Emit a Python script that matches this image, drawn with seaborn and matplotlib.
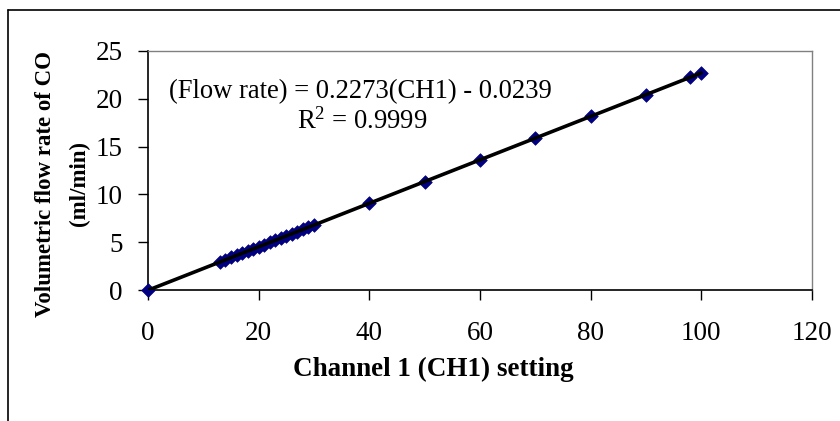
import matplotlib
matplotlib.use("Agg")
import matplotlib.pyplot as plt
from matplotlib.lines import Line2D
import numpy as np
import pandas as pd
import seaborn as sns

# Calibration readings: channel setting vs. measured CO flow (ml/min)
ch1_setting = [0, 13, 14, 15, 16, 17, 18, 19, 20, 21, 22, 23, 24, 25, 26, 27,
               28, 29, 30, 40, 50, 60, 70, 80, 90, 98, 100]
flow_rate = [0.0, 2.95, 3.17, 3.40, 3.62, 3.85, 4.07, 4.30, 4.52, 4.75, 4.98,
             5.20, 5.43, 5.66, 5.89, 6.11, 6.34, 6.57, 6.80, 9.07, 11.34,
             13.61, 15.89, 18.16, 20.43, 22.25, 22.71]

# Linear fit coefficients
slope = 0.2273
intercept = -0.0239
r_squared = 0.9999
fit_x = [0, 100]

x_ticks = [0, 20, 40, 60, 80, 100, 120]
y_ticks = [0, 5, 10, 15, 20, 25]

df = pd.DataFrame({"ch1": ch1_setting, "flow": flow_rate})
fit_df = pd.DataFrame({"ch1": fit_x,
                       "flow": [slope * v + intercept for v in fit_x]})

sns.set_theme(style="white")
plt.rcParams["font.family"] = ["Liberation Serif", "DejaVu Serif"]
plt.rcParams["text.color"] = "black"
plt.rcParams["axes.labelcolor"] = "black"
plt.rcParams["mathtext.fontset"] = "custom"
plt.rcParams["mathtext.rm"] = "Liberation Serif"
plt.rcParams["mathtext.it"] = "Liberation Serif:italic"
plt.rcParams["mathtext.bf"] = "Liberation Serif:bold"

W, H = 840, 421
fig = plt.figure(figsize=(W / 100, H / 100), dpi=100)
fig.patch.set_facecolor("white")

# outer chart frame (left and top edges)
fig.add_artist(Line2D([8 / W, 8 / W], [0, 1 - 10 / H], transform=fig.transFigure,
                      color="black", lw=1.2))
fig.add_artist(Line2D([8 / W, 1], [1 - 10 / H, 1 - 10 / H], transform=fig.transFigure,
                      color="black", lw=1.2))

ax = fig.add_axes([148 / W, 1 - 290 / H, (812 - 148) / W, (290 - 51) / H])

sns.scatterplot(data=df, x="ch1", y="flow", ax=ax, marker="D", s=48,
                color="#000080", edgecolor="#000080", linewidth=0.5,
                zorder=3, clip_on=False)
sns.lineplot(data=fit_df, x="ch1", y="flow", ax=ax, color="black",
             linewidth=2.6, zorder=4)

ax.set_xlim(0, 120)
ax.set_ylim(0, 25)
ax.set_xticks(x_ticks)
ax.set_yticks(y_ticks)
ax.tick_params(axis="both", which="major", direction="out", length=7,
               width=1, color="black", labelsize=19.5, labelcolor="black",
               bottom=True, left=True)
ax.tick_params(axis="x", pad=15)
ax.tick_params(axis="y", pad=11)

for side in ("left", "bottom"):
    ax.spines[side].set_color("black")
    ax.spines[side].set_linewidth(1.2)
for side in ("top", "right"):
    ax.spines[side].set_visible(True)
    ax.spines[side].set_color("#808080")
    ax.spines[side].set_linewidth(1.0)

ax.set_xlabel("Channel 1 (CH1) setting", fontsize=19.5, fontweight="bold",
              va="center")
ax.xaxis.set_label_coords((433 - 148) / 664, -(369 - 290) / 239)
ax.set_ylabel("Volumetric flow rate of CO\n(ml/min)", fontsize=16.5,
              fontweight="bold", linespacing=1.85, va="center")
ax.yaxis.set_label_coords(-(148 - 62.5) / 664, (290 - 184) / 239)

ax.text(0.031, (290 - 98) / 239,
        f"(Flow rate) = {slope:.4f}(CH1) - {abs(intercept):.4f}",
        transform=ax.transAxes, fontsize=19.2, ha="left", va="baseline")
ax.text((297 - 148) / 664, (290 - 129) / 239, f"R$^2$ = {r_squared:.4f}",
        transform=ax.transAxes, fontsize=19.2, ha="left", va="baseline")

fig.savefig("out.png", dpi=100)
